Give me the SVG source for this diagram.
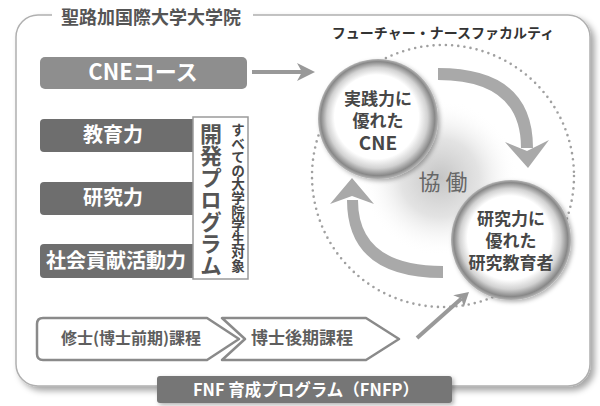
<svg xmlns="http://www.w3.org/2000/svg" width="600" height="406" viewBox="0 0 600 406">
<defs>
<style>
.jp{font-family:"Noto Sans CJK JP","Noto Sans",sans-serif;font-weight:bold}
.bar{fill:#6e6e6e}
.wt{fill:#fff;text-anchor:middle}
.ct{fill:#474747;text-anchor:middle;font-size:17px}
.chev{fill:#fff;stroke:#8a8a8a;stroke-width:2.5;stroke-linejoin:round}
.cur{fill:#a9a9a9}
</style>
<filter id="sh" x="-5%" y="-5%" width="112%" height="115%">
<feDropShadow dx="4" dy="4" stdDeviation="3" flood-color="#000" flood-opacity="0.35"/>
</filter>
<filter id="sh2" x="-10%" y="-10%" width="125%" height="125%">
<feDropShadow dx="2" dy="2" stdDeviation="2" flood-color="#000" flood-opacity="0.3"/>
</filter>
<radialGradient id="ball" cx="50%" cy="50%" r="50%" fx="46%" fy="44%">
<stop offset="0" stop-color="#fff"/>
<stop offset="0.7" stop-color="#fff"/>
<stop offset="0.84" stop-color="#d2d2d2"/>
<stop offset="0.95" stop-color="#888"/>
<stop offset="1" stop-color="#b5b5b5"/>
</radialGradient>
<radialGradient id="glow" cx="50%" cy="50%" r="50%">
<stop offset="0" stop-color="#c4c4c4"/>
<stop offset="0.5" stop-color="#dcdcdc" stop-opacity="0.8"/>
<stop offset="1" stop-color="#fff" stop-opacity="0"/>
</radialGradient>
</defs>

<g id="frame">
<rect x="16" y="15" width="574" height="371" rx="22" fill="#fff" stroke="#b0b0b0" stroke-width="1.5" filter="url(#sh)"/>
<rect x="52" y="5" width="201" height="20" fill="#fff"/>
<text class="jp" x="151" y="24" font-size="18" fill="#555" text-anchor="middle">聖路加国際大学大学院</text>
<text class="jp" x="443" y="38" font-size="14" fill="#333" text-anchor="middle">フューチャー・ナースファカルティ</text>
</g>

<g id="collab">
<circle cx="440" cy="178" r="78" fill="url(#glow)"/>
<circle cx="443" cy="176" r="131" fill="none" stroke="#a0a0a0" stroke-width="2.6" stroke-linecap="round" stroke-dasharray="0 6.2"/>
<text x="443" y="190" font-family="'Noto Sans CJK JP',sans-serif" font-size="22" fill="#666" text-anchor="middle">協 働</text>
</g>

<g id="connectors">
<line x1="252" y1="72" x2="303" y2="72" stroke="#999" stroke-width="4"/>
<polygon points="297,63 315,72 297,81 302,72" fill="#999"/>
<path class="cur" d="M438 68 Q533 68 533 148 L521 148 Q521 80 438 80 Z"/>
<polygon class="cur" points="505,142 527,151 549,140 528,168"/>
<path class="cur" d="M443 278 Q347 278 347 200 L358 200 Q358 266 443 266 Z"/>
<polygon class="cur" points="330,204 352,196 374,204 352,178"/>
<line x1="417" y1="338" x2="461.5" y2="298.6" stroke="#999" stroke-width="4"/>
<polygon points="463.8,307.3 469,292 453.2,295.3 461.5,298.6" fill="#999"/>
</g>

<g id="cne-course">
<rect x="40" y="57" width="207" height="32" rx="5" fill="#8e8e8e"/>
<text class="jp wt" x="143" y="80" font-size="22">CNEコース</text>
</g>

<g id="kyoiku">
<rect class="bar" x="40" y="119" width="160" height="33" rx="4"/>
<text class="jp wt" x="113" y="142" font-size="20">教育力</text>
</g>
<g id="kenkyu">
<rect class="bar" x="40" y="182" width="160" height="33" rx="4"/>
<text class="jp wt" x="113" y="205" font-size="20">研究力</text>
</g>
<g id="shakai">
<rect class="bar" x="40" y="244" width="160" height="34" rx="4"/>
<text class="jp wt" x="116" y="268" font-size="20">社会貢献活動力</text>
</g>

<g id="kaihatsu">
<rect x="193" y="117" width="55" height="162" fill="#fff" stroke="#9a9a9a" stroke-width="1.5"/>
<text class="jp" x="211" y="123" font-size="22" fill="#555" style="writing-mode:vertical-rl">開発プログラム</text>
<text class="jp" x="238" y="123" font-size="13.6" fill="#444" style="writing-mode:vertical-rl">すべての大学院学生対象</text>
</g>

<g id="cne-circle">
<circle cx="378" cy="119" r="60" fill="url(#ball)" filter="url(#sh2)"/>
<text class="jp ct" x="378" y="105">実践力に<tspan x="378" dy="22">優れた</tspan><tspan x="378" dy="23" font-size="19px">CNE</tspan></text>
</g>

<g id="researcher-circle">
<circle cx="511" cy="240" r="60" fill="url(#ball)" filter="url(#sh2)"/>
<text class="jp ct" x="511" y="225">研究力に<tspan x="511" dy="22">優れた</tspan><tspan x="511" dy="22">研究教育者</tspan></text>
</g>

<g id="master">
<path class="chev" d="M43 318 L207 318 L239 339 L207 360 L43 360 Q37 360 37 354 L37 324 Q37 318 43 318 Z"/>
<text class="jp" x="131" y="344" font-size="16" fill="#5e5e5e" text-anchor="middle">修士(博士前期)課程</text>
</g>
<g id="doctor">
<path class="chev" d="M222 318 L366 318 L399 339 L366 360 L222 360 L245 339 Z"/>
<text class="jp" x="302" y="344" font-size="17" fill="#5e5e5e" text-anchor="middle">博士後期課程</text>
</g>

<g id="fnfp">
<rect x="157" y="376" width="295" height="27" rx="3" fill="#767676" filter="url(#sh2)"/>
<text class="jp wt" x="306" y="396" font-size="16.5">FNF 育成プログラム（FNFP）</text>
</g>
</svg>
